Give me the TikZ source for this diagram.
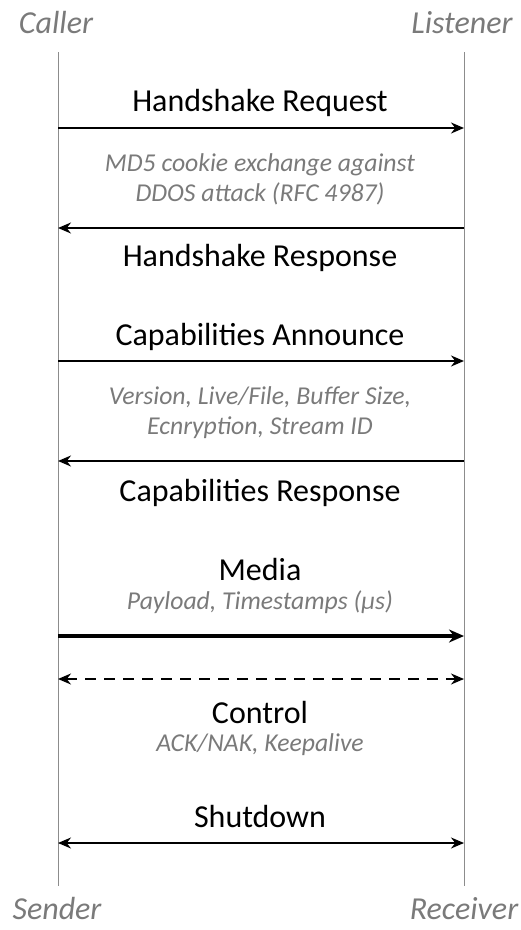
\documentclass[tikz,border=0pt]{standalone}
\usepackage{fontspec}
\setmainfont{Carlito}
\usetikzlibrary{arrows.meta}
\definecolor{txtgray}{HTML}{7A7A7A}
\definecolor{linegray}{HTML}{8C8C8C}
\tikzset{
  x=1pt, y=-1pt,
  party/.style={font=\fontsize{32}{32}\selectfont\itshape, text=txtgray, inner sep=0pt, anchor=base},
  msg/.style={font=\fontsize{32}{32}\selectfont, text=black, inner sep=0pt, anchor=base},
  note/.style={font=\fontsize{25.7}{30}\selectfont\itshape, text=txtgray, inner sep=0pt, align=center},
  lifeline/.style={draw=linegray, line width=1pt},
  arr/.style={draw=black, line width=1.7pt, -{Stealth[length=13pt,width=11pt]}},
  thickarr/.style={draw=black, line width=3.2pt, -{Stealth[length=15pt,width=13pt]}},
  dasharr/.style={draw=black, line width=1.7pt, dash pattern=on 11pt off 8pt, {Stealth[length=13pt,width=11pt]}-{Stealth[length=13pt,width=11pt]}},
  biarr/.style={draw=black, line width=1.7pt, {Stealth[length=13pt,width=11pt]}-{Stealth[length=13pt,width=11pt]}},
}
\begin{document}
\begin{tikzpicture}
\useasboundingbox (0,0) rectangle (521,930);
% party labels
\node[party] (caller) at (56,33) {Caller};
\node[party] (listener) at (462,33) {Listener};
\node[party] (sender) at (57,919) {Sender};
\node[party] (receiver) at (464,919) {Receiver};
% lifelines
\coordinate (lt) at (58,52);
\coordinate (lb) at (58,886);
\coordinate (rt) at (464,52);
\coordinate (rb) at (464,886);
\draw[lifeline] (lt) -- (lb);
\draw[lifeline] (rt) -- (rb);
% message endpoints
\foreach \n/\y in {1/128,2/228,3/361,4/461,5/636,6/679,7/843}{
  \coordinate (L\n) at (58,\y);
  \coordinate (R\n) at (464,\y);
}
% labels
\node[msg] (hreq) at (260,111) {Handshake Request};
\node[note] (hnote) at (260,179) {MD5 cookie exchange against\\DDOS attack (RFC 4987)};
\node[msg] (hresp) at (260,266) {Handshake Response};
\node[msg] (cann) at (260,345) {Capabilities Announce};
\node[note] (cnote) at (260,413) {Version, Live/File, Buffer Size,\\Ecnryption, Stream ID};
\node[msg] (cresp) at (260,501) {Capabilities Response};
\node[msg] (media) at (260,580) {Media};
\node[note] (mnote) at (260,602) {Payload, Timestamps (µs)};
\node[msg] (ctrl) at (260,723) {Control};
\node[note] (ctnote) at (260,745) {ACK/NAK, Keepalive};
\node[msg] (shut) at (260,827) {Shutdown};
% arrows
\draw[arr] (L1) -- (R1);
\draw[arr] (R2) -- (L2);
\draw[arr] (L3) -- (R3);
\draw[arr] (R4) -- (L4);
\draw[thickarr] (L5) -- (R5);
\draw[dasharr] (L6) -- (R6);
\draw[biarr] (L7) -- (R7);
\end{tikzpicture}
\end{document}
